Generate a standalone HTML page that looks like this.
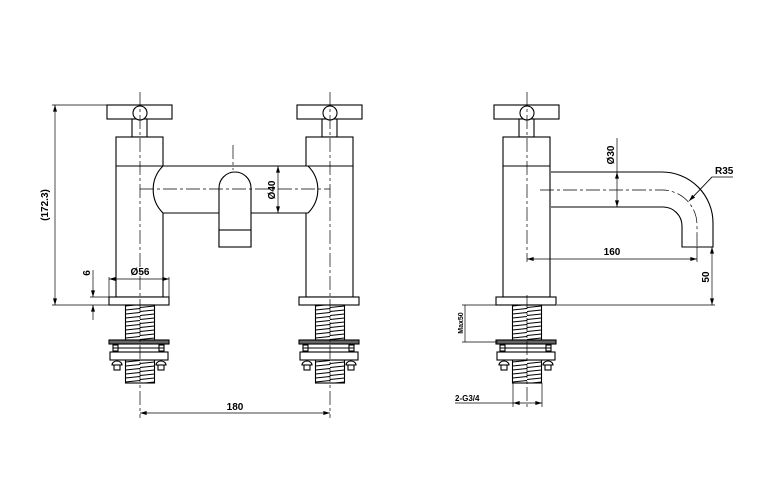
<!DOCTYPE html>
<html><head><meta charset="utf-8"><style>
html,body{margin:0;padding:0;background:#fff;}
svg{display:block;}
text{font-family:"Liberation Sans",Arial,sans-serif;font-size:10px;font-weight:bold;fill:#000;}
</style></head><body>
<svg width="761" height="485" viewBox="0 0 761 485" xmlns="http://www.w3.org/2000/svg">
<defs>
<marker id="a" viewBox="0 0 10 6" refX="10" refY="3" markerWidth="7" markerHeight="4" orient="auto-start-reverse" markerUnits="userSpaceOnUse"><path d="M0,0L10,3L0,6z" fill="#000"/></marker>
<pattern id="h" width="29" height="4" patternUnits="userSpaceOnUse"><line x1="0" y1="3.5" x2="29" y2="0.5" stroke="#000" stroke-width="1"/></pattern>
<g id="tap" fill="#fff" stroke="#000" stroke-width="1.1">
<rect x="-33" y="105" width="65" height="14"/>
<rect x="-8" y="119" width="15" height="18"/>
<circle cx="0" cy="113" r="7"/>
<rect x="-24" y="137" width="47" height="160"/>
<line x1="-24" y1="166" x2="23" y2="166"/>
<rect x="-31" y="297" width="60" height="8"/>
<rect x="-14.5" y="305" width="29" height="35" fill="url(#h)"/>
<rect x="-14.5" y="360" width="29" height="23" fill="url(#h)"/>
<rect x="-31" y="340" width="60" height="4" fill="#666"/>
<rect x="-27" y="345" width="5" height="6"/><rect x="19" y="345" width="5" height="6"/>
<line x1="-27" y1="348" x2="24" y2="348"/>
<rect x="-30" y="352" width="58" height="8"/>
<path d="M-28,365a5,4 0 0 1 10,0z"/><rect x="-26" y="365" width="6" height="5"/>
<path d="M16,365a5,4 0 0 1 10,0z"/><rect x="18" y="365" width="6" height="5"/>
</g>
</defs>
<use href="#tap" x="140"/>
<use href="#tap" x="330"/>
<use href="#tap" x="527"/>
<g fill="#fff" stroke="#000" stroke-width="1.1">
<path d="M163,166H308A33,33 0 0 1 308,213H163A33,33 0 0 1 163,166Z"/>
<path d="M219,247V188A16,16 0 0 1 251,188V247Z"/>
<rect x="219" y="230" width="32" height="17"/>
<path d="M551,172H662A51,51 0 0 1 713,223V247H682V226A19,19 0 0 0 663,207H551"/>
</g>
<g stroke="#000" stroke-width="0.7" stroke-dasharray="14,3,3,3" fill="none">
<line x1="140" y1="92" x2="140" y2="418"/>
<line x1="330" y1="92" x2="330" y2="418"/>
<line x1="527" y1="92" x2="527" y2="262"/>
<line x1="527" y1="295" x2="527" y2="410"/>
<line x1="233" y1="145" x2="233" y2="170"/>
<line x1="140" y1="189" x2="330" y2="189"/>
<path d="M540,190H662A35,35 0 0 1 697,225V247"/>
</g>
<g stroke="#000" stroke-width="0.7" fill="none">
<line x1="52" y1="105" x2="107" y2="105"/><line x1="52" y1="305" x2="109" y2="305"/>
<line x1="55" y1="105" x2="55" y2="305" marker-start="url(#a)" marker-end="url(#a)"/>
<line x1="90" y1="297" x2="109" y2="297"/>
<line x1="93" y1="270" x2="93" y2="297" marker-end="url(#a)"/>
<line x1="93" y1="320" x2="93" y2="305" marker-end="url(#a)"/>
<line x1="109" y1="277" x2="109" y2="297"/><line x1="169" y1="277" x2="169" y2="297"/>
<line x1="109" y1="279" x2="169" y2="279" marker-start="url(#a)" marker-end="url(#a)"/>
<line x1="278" y1="166" x2="278" y2="213" marker-start="url(#a)" marker-end="url(#a)"/>
<line x1="140" y1="413" x2="330" y2="413" marker-start="url(#a)" marker-end="url(#a)"/>
<line x1="617" y1="138" x2="617" y2="172"/>
<line x1="617" y1="172" x2="617" y2="207" marker-start="url(#a)" marker-end="url(#a)"/>
<polyline points="733,177 712,177 690,200"/><line x1="712" y1="177" x2="689" y2="201" marker-end="url(#a)"/>
<line x1="697" y1="247" x2="697" y2="262"/>
<line x1="527" y1="259" x2="697" y2="259" marker-start="url(#a)" marker-end="url(#a)"/>
<line x1="557" y1="305" x2="715" y2="305"/>
<line x1="712" y1="247" x2="712" y2="305" marker-start="url(#a)" marker-end="url(#a)"/>
<line x1="462" y1="305" x2="498" y2="305"/><line x1="462" y1="342" x2="498" y2="342"/>
<line x1="465" y1="305" x2="465" y2="342"/>
<line x1="513" y1="383" x2="513" y2="407"/><line x1="542" y1="383" x2="542" y2="407"/>
<line x1="455" y1="403" x2="513" y2="403"/>
<line x1="513" y1="403" x2="542" y2="403" marker-start="url(#a)" marker-end="url(#a)"/>
</g>
<text x="235" y="410" text-anchor="middle">180</text>
<text x="140" y="275" text-anchor="middle">Ø56</text>
<text transform="translate(90,273) rotate(-90)" text-anchor="middle">6</text>
<text transform="translate(48,205) rotate(-90)" text-anchor="middle">(172.3)</text>
<text transform="translate(275,190) rotate(-90)" text-anchor="middle">Ø40</text>
<text transform="translate(614,155) rotate(-90)" text-anchor="middle">Ø30</text>
<text x="715" y="174">R35</text>
<text x="612" y="255" text-anchor="middle">160</text>
<text transform="translate(709,277) rotate(-90)" text-anchor="middle">50</text>
<text transform="translate(463,323) rotate(-90)" text-anchor="middle" style="font-size:7px">Max50</text>
<text x="455" y="401" style="font-size:8px">2-G3/4</text>
</svg>
</body></html>
